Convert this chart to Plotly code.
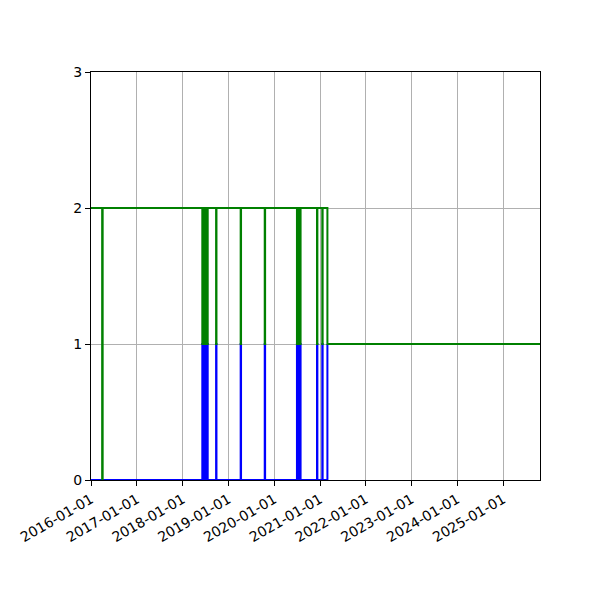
import plotly.graph_objs as go

# green step series (total)
green_dates = [
    "2016-01-01", "2016-03-30", "2016-04-03",
    "2018-06-07", "2018-06-11", "2018-06-15", "2018-06-19", "2018-06-23",
    "2018-06-27", "2018-07-01", "2018-07-05", "2018-07-09", "2018-07-13",
    "2018-07-16", "2018-07-20",
    "2018-09-25", "2018-09-28",
    "2019-04-09", "2019-04-12",
    "2019-10-18", "2019-10-21",
    "2020-07-01", "2020-07-05", "2020-07-09", "2020-07-13", "2020-07-17",
    "2020-07-21", "2020-07-25", "2020-07-30",
    "2020-12-08", "2020-12-11",
    "2021-01-19", "2021-01-22",
    "2021-03-01", "2025-10-22",
]
green_vals = [2, 0, 2,
              1, 2, 1, 2, 1, 2, 1, 2, 1, 2, 1, 2,
              1, 2, 1, 2, 1, 2,
              1, 2, 1, 2, 1, 2, 1, 2,
              1, 2, 1, 2, 1, 1]

# blue step series
blue_dates = [
    "2016-01-01",
    "2018-06-07", "2018-06-11", "2018-06-15", "2018-06-19", "2018-06-23",
    "2018-06-27", "2018-07-01", "2018-07-05", "2018-07-09", "2018-07-13",
    "2018-07-16", "2018-07-20",
    "2018-09-25", "2018-09-28",
    "2019-04-09", "2019-04-12",
    "2019-10-18", "2019-10-21",
    "2020-07-01", "2020-07-05", "2020-07-09", "2020-07-13", "2020-07-17",
    "2020-07-21", "2020-07-25", "2020-07-30",
    "2020-12-08", "2020-12-11",
    "2021-01-19", "2021-01-22",
    "2021-03-01",
]
blue_vals = [0,
             1, 0, 1, 0, 1, 0, 1, 0, 1, 0, 1, 0,
             1, 0, 1, 0, 1, 0,
             1, 0, 1, 0, 1, 0, 1, 0,
             1, 0, 1, 0, 1]

tick_dates = ["%d-01-01" % y for y in range(2016, 2026)]

fig = go.Figure()
fig.add_trace(go.Scatter(x=blue_dates, y=blue_vals, mode="lines",
                         line=dict(color="blue", width=2, shape="hv")))
fig.add_trace(go.Scatter(x=green_dates, y=green_vals, mode="lines",
                         line=dict(color="green", width=2, shape="hv")))

axis_style = dict(
    showline=True, linecolor="black", linewidth=1, mirror=True,
    ticks="outside", ticklen=5, tickcolor="black",
    showgrid=True, gridcolor="#b0b0b0", gridwidth=1,
    zeroline=False,
)
fig.update_xaxes(range=["2016-01-01", "2025-10-22"], tickvals=tick_dates,
                 ticktext=tick_dates, tickangle=-30, **axis_style)
fig.update_yaxes(range=[0, 3], tickvals=[0, 1, 2, 3], **axis_style)

# page body adds 8px, so margins are 8px less on the top/left
fig.update_layout(
    width=600, height=600,
    margin=dict(l=83, r=68, t=64, b=128, autoexpand=False),
    showlegend=False,
    plot_bgcolor="white", paper_bgcolor="white",
    font=dict(family="DejaVu Sans", size=14, color="black"),
)

fig.write_html("out.html")
